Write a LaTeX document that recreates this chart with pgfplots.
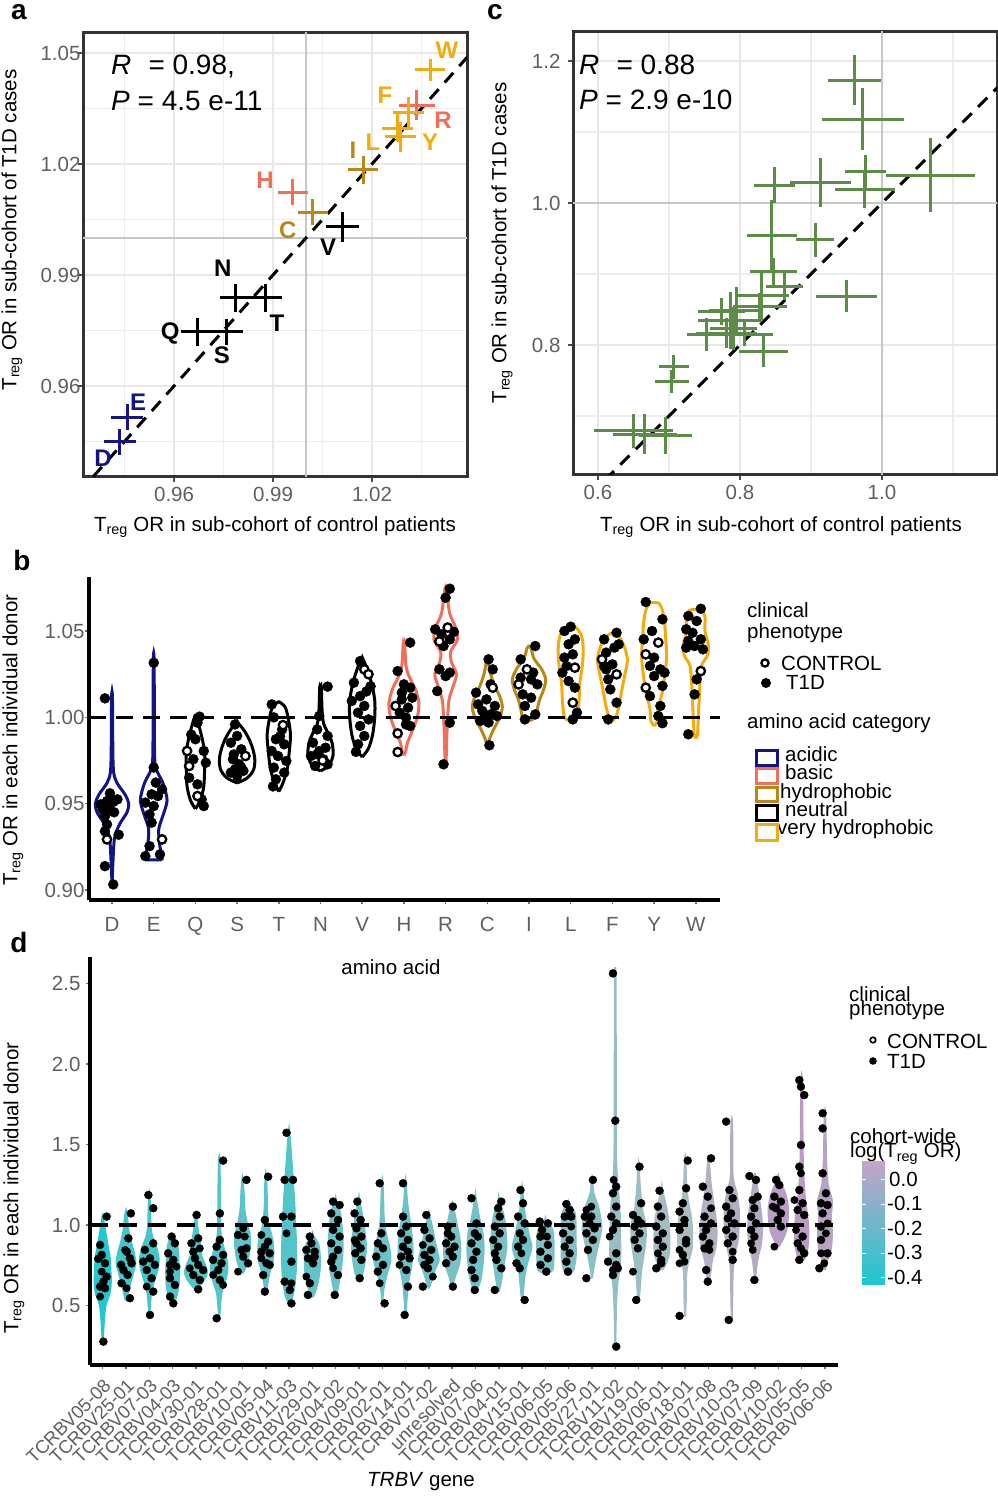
\documentclass[border=0pt]{standalone}
\usepackage{fontspec}
\setmainfont{Liberation Sans}
\usepackage{pgfplots}
\pgfplotsset{compat=1.18}
\definecolor{acid}{RGB}{20,20,135}
\definecolor{basic}{RGB}{240,110,90}
\definecolor{hyd}{RGB}{185,135,20}
\definecolor{vhyd}{RGB}{242,172,15}
\definecolor{grn}{RGB}{92,140,72}
\definecolor{cA}{RGB}{35,200,205}
\definecolor{cB}{RGB}{170,190,193}
\definecolor{cC}{RGB}{190,150,195}
\definecolor{tk}{RGB}{95,95,95}
\newcommand\fs{\fontsize{20.5}{23}\selectfont}
\newcommand\violin[3]{%
  \gdef\vR{}\gdef\vL{}%
  \foreach \yy/\ww in {#3}{%
    \pgfmathsetmacro\xr{#1+\ww}%
    \pgfmathsetmacro\xl{#1-\ww}%
    \xdef\vR{\vR(\xr,\yy)}%
    \xdef\vL{(\xl,\yy)\vL}%
  }%
  \edef\temp{\noexpand\addplot[#2] coordinates {\vR\vL};}%
  \temp}
\pgfplotsset{
  vb/.style={draw=#1, line width=3pt, smooth, fill=none},
  vd/.style={draw=#1, fill=#1, line width=2pt, smooth},
  t1d/.style={only marks, mark=*, mark size=#1, black, mark options={draw=black, fill=black}},
  ctl/.style={only marks, mark=*, mark size=#1, mark options={fill=white, draw=black, line width=2.3pt}},
  cross/.style={only marks, mark=*, mark size=0pt, mark options={draw=none, fill=none}, error bars/.cd, x dir=both, x explicit, y dir=both, y explicit, error mark=none, error bar style={line width=3pt, draw=#1}},
}
\begin{document}
\begin{tikzpicture}
\useasboundingbox (0,0) rectangle (998pt,1496pt);
\pgfplotsset{every axis/.append style={font=\fs, scale only axis, anchor=south west,
  tick label style={font=\fs, text=tk}}}
%%%%%%%%%%%%%%%% panel a
\begin{axis}[at={(83pt,1019pt)}, width=384pt, height=444pt,
  xmin=0.9324, xmax=1.0488, ymin=0.9354, ymax=1.0554,
  xtick={0.96,0.99,1.02}, ytick={0.96,0.99,1.02,1.05},
  xticklabels={0.96,0.99,1.02}, yticklabels={0.96,0.99,1.02,1.05},
  minor xtick={0.945,0.975,1.005,1.035}, minor ytick={0.945,0.975,1.005,1.035},
  grid=both, major grid style={line width=2.4pt, black!9}, minor grid style={line width=1.2pt, black!7},
  axis line style={line width=3pt, black!80}, tick pos=left,
  tick align=outside, major tick length=5pt, minor tick length=0pt,
  tick style={line width=1.5pt, black!70},
  xticklabel style={yshift=-2pt}, yticklabel style={xshift=6pt}]
\addplot[black!22, line width=2.8pt] coordinates {(1,0.9) (1,1.1)};
\addplot[black!22, line width=2.8pt] coordinates {(0.9,1) (1.1,1)};
\addplot[black, line width=3pt, dash pattern=on 13pt off 9pt] coordinates {(0.9,0.9) (1.1,1.1)};
\addplot[cross=acid] coordinates {(0.9458,0.9516) +- (0.0048,0.0036) (0.9436,0.9449) +- (0.0048,0.0036)};
\addplot[cross=black] coordinates {(1.0112,1.003) +- (0.005,0.004) (0.9785,0.9838) +- (0.0045,0.0038) (0.9876,0.9838) +- (0.005,0.0038) (0.967,0.9746) +- (0.005,0.0038) (0.976,0.9746) +- (0.005,0.0036)};
\addplot[cross=hyd] coordinates {(1.0173,1.0184) +- (0.0045,0.0038) (1.0021,1.007) +- (0.0045,0.0036)};
\addplot[cross=basic] coordinates {(0.996,1.0124) +- (0.0045,0.0036) (1.0336,1.0359) +- (0.0055,0.004)};
\addplot[cross=vhyd] coordinates {(1.0376,1.0454) +- (0.0046,0.003) (1.031,1.034) +- (0.0047,0.004) (1.0276,1.0297) +- (0.0047,0.0037) (1.0285,1.0273) +- (0.0047,0.004)};
\begin{scope}[every node/.style={font=\fontsize{24}{26}\selectfont\bfseries, inner sep=0pt}]
\node[vhyd] at (axis cs:1.0427,1.0508) {W};
\node[vhyd] at (axis cs:1.0239,1.0386) {F};
\node[basic] at (axis cs:1.0415,1.0319) {R};
\node[vhyd] at (axis cs:1.0376,1.0259) {Y};
\node[vhyd] at (axis cs:1.0203,1.0259) {L};
\node[hyd] at (axis cs:1.0142,1.0238) {I};
\node[basic] at (axis cs:0.9876,1.0157) {H};
\node[hyd] at (axis cs:0.9945,1.0022) {C};
\node[black] at (axis cs:1.0067,0.9976) {V};
\node[black] at (axis cs:0.9748,0.9919) {N};
\node[black] at (axis cs:0.9912,0.977) {T};
\node[black] at (axis cs:0.9588,0.9743) {Q};
\node[black] at (axis cs:0.9745,0.9684) {S};
\node[acid] at (axis cs:0.9491,0.9557) {E};
\node[acid] at (axis cs:0.9385,0.9405) {D};
\end{scope}
\end{axis}
%%%%%%%%%%%%%%%% panel c
\begin{axis}[at={(573pt,1021pt)}, width=424pt, height=443pt,
  xmin=0.5648, xmax=1.162, ymin=0.617, ymax=1.2408,
  xtick={0.6,0.8,1.0}, ytick={0.8,1.0,1.2},
  xticklabels={0.6,0.8,1.0}, yticklabels={0.8,1.0,1.2},
  minor xtick={0.7,0.9,1.1}, minor ytick={0.7,0.9,1.1},
  grid=both, major grid style={line width=2.4pt, black!9}, minor grid style={line width=1.2pt, black!7},
  axis line style={line width=3pt, black!80}, tick pos=left,
  tick align=outside, major tick length=5pt, minor tick length=0pt,
  tick style={line width=1.5pt, black!70},
  xticklabel style={yshift=-2pt}, yticklabel style={xshift=-4pt}]
\addplot[black!22, line width=2.8pt] coordinates {(1,0.5) (1,1.3)};
\addplot[black!22, line width=2.8pt] coordinates {(0.5,1) (1.2,1)};
\addplot[black, line width=3pt, dash pattern=on 13pt off 9pt] coordinates {(0.5,0.5) (1.2,1.2)};
\addplot[cross=grn] coordinates {
(0.961,1.173) +- (0.0376,0.035) (0.973,1.118) +- (0.058,0.044) (1.068,1.039) +- (0.063,0.052)
(0.977,1.044) +- (0.029,0.024) (0.976,1.019) +- (0.042,0.026) (0.914,1.029) +- (0.043,0.035)
(0.849,1.025) +- (0.029,0.025) (0.845,0.954) +- (0.035,0.05) (0.906,0.948) +- (0.027,0.024)
(0.950,0.869) +- (0.043,0.0225) (0.847,0.903) +- (0.033,0.019) (0.863,0.882) +- (0.026,0.019)
(0.8305,0.870) +- (0.038,0.036) (0.828,0.854) +- (0.038,0.019) (0.795,0.849) +- (0.038,0.033)
(0.774,0.847) +- (0.033,0.019) (0.786,0.835) +- (0.045,0.04) (0.781,0.8165) +- (0.043,0.021)
(0.753,0.815) +- (0.028,0.023) (0.807,0.8155) +- (0.04,0.017) (0.833,0.7906) +- (0.034,0.022)
(0.7906,0.8235) +- (0.033,0.03) (0.707,0.7695) +- (0.0216,0.017) (0.704,0.7483) +- (0.0235,0.016)
(0.650,0.679) +- (0.056,0.0235) (0.666,0.6746) +- (0.045,0.028) (0.695,0.672) +- (0.0376,0.026)};
\end{axis}
%%%%%%%%%%%%%%%% panel b
\begin{axis}[at={(89pt,596pt)}, width=631pt, height=323pt,
  xmin=0.448, xmax=15.58, ymin=0.8942, ymax=1.0813,
  axis x line*=bottom, axis y line*=left,
  axis line style={line width=3.5pt, black, -},
  xtick={1,...,15}, xticklabels={D,E,Q,S,T,N,V,H,R,C,I,L,F,Y,W},
  ytick={0.9,0.95,1.0,1.05}, yticklabels={0.90,0.95,1.00,1.05},
  tick align=outside, major tick length=4pt, tick style={line width=1.5pt, black!55},
  xticklabel style={yshift=-10pt}, yticklabel style={xshift=3pt}]
\violin{1}{vb=acid}{0.903/0,0.915/0.02,0.93/0.06,0.938/0.18,0.945/0.36,0.95/0.4,0.955/0.32,0.962/0.12,0.968/0.04,0.98/0.02,1.0116/0.01}
\violin{2}{vb=acid}{0.9175/0,0.918/0.2,0.925/0.15,0.935/0.12,0.943/0.22,0.952/0.32,0.962/0.22,0.97/0.06,0.98/0.02,1.032/0.01}
\violin{3}{vb=black}{0.947/0,0.952/0.12,0.96/0.2,0.97/0.22,0.98/0.22,0.99/0.14,0.998/0.05,1.001/0.01}
\violin{4}{vb=black}{0.962/0,0.965/0.25,0.97/0.4,0.977/0.42,0.985/0.33,0.992/0.18,0.997/0.01}
\violin{5}{vb=black}{0.957/0,0.962/0.1,0.97/0.2,0.98/0.25,0.99/0.28,1.0/0.22,1.006/0.15,1.009/0.01}
\violin{6}{vb=black}{0.969/0,0.972/0.2,0.978/0.3,0.985/0.28,0.99/0.2,0.996/0.08,1.003/0.04,1.017/0.02,1.018/0.01}
\violin{7}{vb=black}{0.977/0,0.982/0.15,0.99/0.25,1.0/0.3,1.01/0.3,1.02/0.22,1.028/0.12,1.034/0.01}
\violin{8}{vb=basic}{0.978/0,0.98/0.04,0.985/0.08,0.992/0.2,1.0/0.32,1.008/0.36,1.016/0.28,1.024/0.12,1.03/0.05,1.042/0.02,1.0425/0.01}
\violin{9}{vb=basic}{0.9718/0,0.98/0.02,0.99/0.03,1.0/0.05,1.01/0.08,1.018/0.18,1.025/0.26,1.032/0.14,1.038/0.12,1.045/0.28,1.052/0.24,1.06/0.1,1.07/0.04,1.0751/0.01}
\violin{10}{vb=hyd}{0.9834/0,0.988/0.06,0.993/0.15,1.0/0.3,1.006/0.36,1.012/0.3,1.018/0.18,1.025/0.08,1.03/0.04,1.0336/0.01}
\violin{11}{vb=hyd}{0.998/0,1.0/0.15,1.005/0.2,1.01/0.25,1.016/0.35,1.022/0.4,1.028/0.3,1.034/0.12,1.04/0.05,1.0413/0.01}
\violin{12}{vb=vhyd}{0.998/0,1.0/0.15,1.01/0.2,1.02/0.22,1.03/0.28,1.04/0.3,1.048/0.25,1.052/0.12,1.053/0.01}
\violin{13}{vb=vhyd}{0.998/0,1.0/0.08,1.006/0.15,1.015/0.22,1.025/0.3,1.033/0.36,1.04/0.3,1.046/0.18,1.049/0.01}
\violin{14}{vb=vhyd}{0.995/0,0.998/0.08,1.005/0.1,1.015/0.2,1.025/0.26,1.035/0.3,1.045/0.28,1.055/0.25,1.062/0.2,1.066/0.12,1.0665/0.01}
\violin{15}{vb=vhyd}{0.988/0,0.99/0.04,1.0/0.06,1.01/0.08,1.02/0.1,1.03/0.14,1.036/0.28,1.042/0.3,1.05/0.22,1.058/0.22,1.062/0.15,1.0626/0.01}
\addplot[black, line width=3.5pt, dash pattern=on 17pt off 10pt] coordinates {(0.448,1) (15.58,1)};
\addplot[t1d=5pt] coordinates {
(0.83,1.011) (0.73,0.9496) (0.88,0.9515) (1.03,0.951) (1.13,0.9525) (0.93,0.9467) (0.78,0.9467) (0.83,0.9428) (0.88,0.938) (0.83,0.934) (1.16,0.932) (0.83,0.9138) (1.03,0.9032) (0.95,0.956) (1.05,0.945)
(2.0,1.0316) (2.0,0.9709) (2.05,0.9622) (2.2,0.9583) (1.95,0.9554) (2.1,0.9544) (1.8,0.9506) (2.0,0.9486) (1.9,0.9438) (1.95,0.939) (1.9,0.9254) (1.8,0.9196) (2.15,0.9206)
(3.1,1.0004) (3.05,0.9969) (2.9,0.990) (3.0,0.9873) (3.2,0.9805) (2.95,0.9757) (3.25,0.9737) (2.85,0.965) (3.05,0.9612) (3.15,0.9525) (3.2,0.9486)
(3.95,0.9959) (4.0,0.9892) (3.85,0.9853) (4.1,0.9815) (3.9,0.9757) (4.05,0.9728) (3.95,0.9699) (4.15,0.969) (3.85,0.968) (4.0,0.966) (4.1,0.971) (3.92,0.9785)
(4.83,1.0075) (4.88,1.0) (5.08,0.993) (4.93,0.9873) (5.13,0.9844) (4.83,0.9805) (4.98,0.9776) (5.18,0.9747) (4.88,0.9709) (5.13,0.968) (4.93,0.9641) (4.86,0.96) (5.03,0.989)
(6.17,1.0178) (5.97,1.0008) (5.92,0.993) (6.17,0.9892) (5.82,0.9853) (6.12,0.9824) (5.92,0.9786) (5.77,0.9776) (6.07,0.9757) (5.87,0.9718) (6.17,0.9728) (5.97,0.9805)
(6.95,1.0326) (6.8,1.0201) (7.2,1.018) (6.95,1.0123) (6.75,1.0095) (7.05,1.0066) (6.9,1.0027) (7.15,0.9988) (6.95,0.995) (7.05,0.9892) (6.9,0.9844) (6.85,0.98) (7.1,1.015)
(8.15,1.0433) (7.85,1.0268) (8.0,1.0191) (8.15,1.0172) (7.95,1.0143) (8.2,1.0114) (8.1,1.0056) (7.9,1.0027) (8.05,0.9998) (8.15,0.995) (8.05,0.9959) (7.95,1.0104)
(9.1,1.0745) (9.0,1.0693) (8.75,1.051) (8.9,1.0481) (9.1,1.0452) (8.95,1.0413) (8.85,1.0278) (9.1,1.0259) (9.0,1.0239) (8.8,1.0152) (9.1,0.9969) (8.95,0.9728) (9.2,1.0495)
(10.03,1.0336) (10.13,1.0278) (9.73,1.0143) (10.08,1.0191) (9.98,1.0104) (9.78,1.0075) (10.18,1.0066) (9.88,1.0037) (10.08,1.0017) (9.93,0.9998) (10.23,1.0008) (9.83,0.9979) (10.03,0.997) (10.05,0.9838)
(11.15,1.0413) (10.8,1.0336) (11.1,1.0259) (10.8,1.023) (11.05,1.022) (11.2,1.0191) (10.85,1.0133) (11.05,1.0114) (10.9,1.0066) (11.15,1.0017) (10.9,0.9988)
(12.0,1.0525) (11.85,1.05) (12.1,1.0452) (11.95,1.0423) (11.85,1.0346) (12.05,1.0365) (11.8,1.0259) (11.95,1.021) (12.1,1.0172) (12.15,1.0027) (12.05,0.9988) (11.9,1.0297)
(13.1,1.049) (12.8,1.0452) (13.05,1.0404) (12.85,1.0375) (13.0,1.0307) (12.85,1.0278) (12.9,1.022) (12.95,1.0162) (13.1,1.0085) (12.9,0.9988) (13.15,1.0423) (12.8,1.0297)
(13.8,1.0668) (14.2,1.0568) (13.95,1.05) (13.75,1.0452) (14.0,1.0346) (13.9,1.0298) (14.15,1.0278) (14.0,1.0239) (14.25,1.0259) (14.2,1.0182) (13.9,1.0123) (14.15,1.0066) (14.1,1.0008) (14.2,0.9966)
(15.12,1.0629) (14.82,1.0587) (15.02,1.0558) (14.77,1.051) (14.92,1.049) (14.82,1.0442) (15.12,1.0452) (14.97,1.0413) (14.77,1.0404) (15.17,1.0394) (15.02,1.022) (14.97,1.0133) (14.82,0.9902)};
\addplot[ctl=4.2pt] coordinates {
(0.88,0.9293) (2.2,0.9293) (2.8,0.9805) (2.85,0.9718) (3.05,0.9544) (4.2,0.9776) (5.1,0.9955) (6.05,0.975)
(7.05,1.0278) (7.15,1.025) (7.8,1.0066) (7.85,0.9907) (7.85,0.9799) (9.05,1.052) (8.85,1.044) (10.13,1.0172)
(10.95,1.0278) (10.75,1.0191) (12.1,1.0288) (12.05,1.0085) (12.75,1.0336) (13.1,1.0249) (14.1,1.0433) (13.8,1.0365) (13.8,1.0172) (15.12,1.0268)};
\end{axis}
%%%%%%%%%%%%%%%% panel d
\begin{axis}[at={(90pt,131pt)}, width=748pt, height=408pt,
  xmin=0.455, xmax=32.56, ymin=0.130, ymax=2.665,
  axis x line*=bottom, axis y line*=left,
  axis line style={line width=3.5pt, black, -},
  xtick={1,...,32},
  xticklabels={TCRBV05-08,TCRBV25-01,TCRBV07-03,TCRBV04-03,TCRBV30-01,TCRBV28-01,TCRBV10-01,TCRBV05-04,TCRBV11-03,TCRBV29-01,TCRBV04-02,TCRBV09-01,TCRBV02-01,TCRBV14-01,TCRBV07-02,unresolved,TCRBV07-06,TCRBV04-01,TCRBV15-01,TCRBV06-05,TCRBV05-06,TCRBV27-01,TCRBV11-02,TCRBV19-01,TCRBV06-01,TCRBV18-01,TCRBV07-08,TCRBV10-03,TCRBV07-09,TCRBV10-02,TCRBV05-05,TCRBV06-06},
  xticklabel style={yshift=-7pt, rotate=45, anchor=north east, font=\fontsize{18.5}{20}\selectfont, inner sep=1pt},
  ytick={0.5,1,1.5,2,2.5}, yticklabels={0.5,1.0,1.5,2.0,2.5},
  tick align=outside, major tick length=4pt, tick style={line width=1.5pt, black!55},
  yticklabel style={xshift=-2pt}]
\violin{1}{vd=cA}{0.27/0,0.4/0.05,0.5/0.12,0.58/0.3,0.65/0.35,0.72/0.33,0.8/0.3,0.88/0.2,0.95/0.12,1.0/0.06,1.05/0.01}
\violin{2}{vd=cB!22!cA}{0.53/0,0.56/0.06,0.62/0.15,0.7/0.3,0.76/0.4,0.82/0.35,0.9/0.2,0.97/0.1,1.03/0.06,1.083/0.01}
\violin{3}{vd=cB!22!cA}{0.44/0,0.5/0.03,0.58/0.08,0.65/0.2,0.72/0.35,0.79/0.4,0.86/0.3,0.93/0.12,1.0/0.05,1.1/0.03,1.186/0.01}
\violin{4}{vd=cB!35!cA}{0.51/0,0.55/0.15,0.62/0.25,0.7/0.28,0.78/0.25,0.85/0.22,0.9/0.15,0.938/0.01}
\violin{5}{vd=cB!35!cA}{0.596/0,0.62/0.15,0.66/0.35,0.7/0.47,0.75/0.4,0.8/0.25,0.88/0.18,0.95/0.1,1.0/0.05,1.062/0.01}
\violin{6}{vd=cB!35!cA}{0.42/0,0.5/0.04,0.58/0.1,0.65/0.25,0.72/0.35,0.8/0.3,0.88/0.15,0.95/0.06,1.1/0.04,1.25/0.03,1.404/0.01}
\violin{7}{vd=cB!42!cA}{0.7/0,0.73/0.12,0.8/0.25,0.88/0.32,0.95/0.3,1.0/0.2,1.1/0.08,1.2/0.05,1.28/0.01}
\violin{8}{vd=cB!42!cA}{0.575/0,0.62/0.05,0.7/0.15,0.78/0.3,0.86/0.32,0.93/0.25,1.0/0.12,1.1/0.05,1.2/0.04,1.3/0.01}
\violin{9}{vd=cB!35!cA}{0.513/0,0.56/0.15,0.65/0.25,0.75/0.3,0.85/0.3,0.95/0.28,1.05/0.25,1.15/0.22,1.3/0.15,1.45/0.08,1.58/0.01}
\violin{10}{vd=cB!48!cA}{0.55/0,0.6/0.15,0.7/0.3,0.8/0.32,0.88/0.25,0.938/0.01}
\violin{11}{vd=cB!52!cA}{0.555/0,0.6/0.08,0.7/0.2,0.8/0.28,0.9/0.3,1.0/0.25,1.08/0.18,1.155/0.01}
\violin{12}{vd=cB!52!cA}{0.658/0,0.7/0.15,0.78/0.25,0.86/0.3,0.95/0.25,1.05/0.15,1.155/0.01}
\violin{13}{vd=cB!52!cA}{0.513/0,0.6/0.05,0.7/0.2,0.78/0.35,0.86/0.3,0.95/0.15,1.05/0.06,1.15/0.04,1.259/0.01}
\violin{14}{vd=cB!52!cA}{0.441/0,0.55/0.05,0.65/0.12,0.75/0.25,0.85/0.3,0.95/0.25,1.05/0.15,1.15/0.06,1.259/0.01}
\violin{15}{vd=cB!57!cA}{0.607/0,0.65/0.1,0.72/0.25,0.78/0.42,0.84/0.35,0.9/0.25,0.98/0.15,1.062/0.01}
\violin{16}{vd=cB!62!cA}{0.617/0,0.68/0.12,0.76/0.3,0.85/0.35,0.93/0.3,1.0/0.2,1.06/0.12,1.124/0.01}
\violin{17}{vd=cB!58!cA}{0.586/0,0.65/0.2,0.75/0.3,0.85/0.35,0.95/0.3,1.05/0.15,1.166/0.01}
\violin{18}{vd=cB!62!cA}{0.586/0,0.65/0.1,0.75/0.2,0.85/0.32,0.95/0.3,1.05/0.22,1.155/0.01}
\violin{19}{vd=cB!58!cA}{0.534/0,0.6/0.05,0.7/0.12,0.78/0.25,0.86/0.4,0.93/0.3,1.0/0.2,1.1/0.08,1.217/0.01}
\violin{20}{vd=cB!68!cA}{0.7/0,0.72/0.3,0.8/0.35,0.9/0.35,0.97/0.3,1.031/0.01}
\violin{21}{vd=cB!72!cA}{0.689/0,0.72/0.2,0.8/0.3,0.9/0.3,1.0/0.3,1.08/0.25,1.135/0.01}
\violin{22}{vd=cB!78!cA}{0.669/0,0.72/0.05,0.8/0.15,0.9/0.3,0.98/0.4,1.05/0.35,1.12/0.25,1.2/0.06,1.28/0.01}
\violin{23}{vd=cB!85!cA}{0.244/0,0.4/0.02,0.55/0.05,0.65/0.1,0.75/0.2,0.85/0.22,0.95/0.2,1.05/0.2,1.15/0.15,1.25/0.1,1.4/0.04,1.7/0.03,2.2/0.02,2.563/0.01}
\violin{24}{vd=cB!90!cA}{0.534/0,0.6/0.05,0.7/0.1,0.8/0.2,0.9/0.3,1.0/0.3,1.1/0.15,1.25/0.05,1.362/0.01}
\violin{25}{vd=cB!95!cA}{0.72/0,0.75/0.15,0.82/0.3,0.9/0.32,1.0/0.3,1.1/0.2,1.217/0.01}
\violin{26}{vd=cB}{0.431/0,0.55/0.03,0.7/0.05,0.78/0.15,0.85/0.28,0.95/0.3,1.05/0.25,1.15/0.12,1.25/0.05,1.404/0.01}
\violin{27}{vd=cC!30!cB}{0.648/0,0.7/0.08,0.78/0.15,0.86/0.3,0.95/0.35,1.05/0.3,1.15/0.2,1.25/0.1,1.414/0.01}
\violin{28}{vd=cC!40!cB}{0.41/0,0.55/0.02,0.7/0.04,0.8/0.1,0.9/0.25,1.0/0.3,1.1/0.3,1.2/0.2,1.3/0.04,1.5/0.03,1.642/0.01}
\violin{29}{vd=cC!50!cB}{0.658/0,0.72/0.04,0.8/0.12,0.88/0.25,0.98/0.3,1.08/0.25,1.18/0.15,1.31/0.01}
\violin{30}{vd=cC!80!cB}{0.865/0,0.9/0.15,0.95/0.3,1.0/0.38,1.1/0.42,1.18/0.32,1.25/0.15,1.3/0.01}
\violin{31}{vd=cC!90!cB}{0.772/0,0.8/0.15,0.86/0.25,0.93/0.28,1.0/0.28,1.1/0.2,1.2/0.12,1.35/0.06,1.5/0.04,1.7/0.03,1.9/0.01}
\violin{32}{vd=cC!70!cB}{0.72/0,0.78/0.1,0.85/0.25,0.95/0.3,1.05/0.25,1.15/0.3,1.25/0.12,1.4/0.05,1.55/0.03,1.694/0.01}
\addplot[black, line width=3.5pt, dash pattern=on 18pt off 11pt] coordinates {(0.455,1) (32.56,1)};
\addplot[t1d=4pt] coordinates {
(1.17,1.052) (0.89,0.876) (0.96,0.814) (1.1,0.762) (1.17,0.679) (0.89,0.617) (1.1,0.607) (1.03,0.275) (0.81,0.79) (1.03,0.648)
(2.21,1.072) (2.1,0.917) (2.03,0.834) (1.79,0.752) (2.17,0.793) (1.89,0.72) (2.07,0.69) (1.81,0.638) (2.17,0.545) (2.24,0.762)
(2.96,1.186) (3.17,1.104) (3.17,0.886) (2.81,0.845) (3.03,0.793) (2.74,0.772) (3.24,0.752) (2.89,0.72) (3.1,0.669) (3.17,0.586) (3.03,0.441)
(3.96,0.928) (3.81,0.824) (4.03,0.783) (3.89,0.669) (4.1,0.627) (3.89,0.555) (4.03,0.513) (4.1,0.886) (3.89,0.752)
(5.03,1.062) (5.1,0.917) (4.81,0.886) (4.89,0.834) (4.96,0.793) (5.1,0.752) (5.31,0.72) (4.89,0.689) (5.17,0.658) (5.1,0.6)
(6.17,1.4) (6.03,1.072) (6.03,0.907) (5.89,0.865) (5.74,0.783) (6.1,0.762) (5.96,0.72) (6.03,0.658) (5.89,0.42) (6.17,0.814)
(7.17,1.28) (6.81,0.938) (7.17,0.855) (7.03,0.803) (7.24,0.762) (6.96,0.845)
(8.1,1.3) (7.96,1.031) (8.1,0.896) (7.96,0.865) (8.17,0.824) (8.03,0.762) (7.89,0.689) (7.96,0.586) (8.17,0.752) (7.81,0.834)
(8.89,1.573) (8.81,1.28) (9.17,1.28) (8.74,1.052) (9.1,1.052) (9.1,0.772) (8.81,0.648) (9.03,0.596) (9.1,0.513)
(9.89,0.928) (9.96,0.886) (9.74,0.845) (10.1,0.834) (9.81,0.793) (10.03,0.762) (9.89,0.638) (9.81,0.565) (10.1,0.803)
(10.89,1.145) (11.17,1.124) (10.81,1.072) (11.1,1.031) (10.89,0.969) (11.17,0.928) (10.81,0.886) (11.1,0.845) (10.89,0.803) (11.1,0.689) (10.96,0.565) (10.81,0.772)
(11.93,1.145) (11.81,1.072) (12.07,1.031) (11.89,0.979) (12.1,0.928) (11.89,0.886) (12.07,0.855) (11.84,0.824) (12.1,0.783) (12.03,0.669)
(12.89,1.259) (12.81,0.886) (13.03,0.855) (12.74,0.803) (13.03,0.752) (12.81,0.71) (13.1,0.513) (12.96,0.948)
(13.89,1.259) (13.89,1.052) (14.03,0.99) (13.81,0.948) (14.1,0.907) (13.89,0.865) (14.1,0.834) (14.03,0.72) (14.1,0.617) (13.96,0.441) (14.17,0.793) (13.81,0.803)
(14.89,1.062) (14.81,0.969) (15.03,0.917) (15.1,0.845) (14.81,0.814) (15.03,0.783) (14.81,0.752) (14.74,0.617) (14.96,0.731)
(16.03,1.114) (15.81,0.99) (15.96,0.928) (15.74,0.886) (16.1,0.865) (15.89,0.834) (16.03,0.803) (15.74,0.762) (16.03,0.617) (15.81,0.948)
(16.83,1.166) (17.04,1.01) (16.97,0.948) (16.83,0.886) (17.04,0.834) (16.9,0.783) (16.83,0.72) (16.97,0.669) (16.97,0.596) (17.1,0.928)
(18.11,1.145) (17.97,1.104) (17.83,0.99) (18.04,0.948) (17.76,0.907) (17.97,0.865) (17.83,0.824) (18.11,0.731) (17.83,0.596) (18.04,1.052) (17.9,0.783)
(18.93,1.217) (19.04,1.135) (18.83,1.052) (19.11,1.01) (18.9,0.948) (19.04,0.907) (18.83,0.865) (18.9,0.731) (19.11,0.534) (18.76,0.762)
(19.76,1.021) (20.11,1.01) (19.79,0.928) (20.11,0.876) (19.79,0.834) (20.11,0.793) (19.79,0.752) (20.04,0.71) (19.86,0.969)
(20.9,1.13) (21.04,1.093) (20.83,1.052) (20.76,0.948) (21.04,0.907) (20.83,0.865) (21.04,0.824) (20.9,0.772) (20.97,0.71) (21.11,1.052)
(22.04,1.28) (21.69,1.052) (21.9,1.01) (22.11,0.979) (21.76,0.948) (22.04,0.907) (21.83,0.845) (21.76,0.669) (21.97,1.052)
(22.9,2.563) (23.0,1.648) (23.04,1.238) (22.9,1.197) (23.04,1.114) (22.83,1.052) (23.04,1.01) (22.9,0.969) (23.04,0.824) (22.69,0.772) (23.04,0.752) (23.11,0.731) (22.9,0.689) (23.04,0.244)
(24.04,1.362) (24.11,1.135) (23.76,1.062) (23.97,1.031) (23.83,0.99) (24.04,0.948) (23.83,0.907) (23.97,0.855) (23.9,0.534) (24.11,1.01)
(24.9,1.213) (24.83,1.114) (24.97,1.052) (24.76,0.99) (25.04,0.948) (24.83,0.907) (25.04,0.865) (24.97,0.783) (24.76,0.731) (24.97,0.762)
(26.11,1.4) (26.04,1.228) (25.9,1.135) (25.76,1.083) (25.97,1.031) (25.76,0.969) (26.04,0.907) (25.9,0.814) (25.76,0.435) (26.04,0.886)
(27.11,1.414) (26.76,1.238) (26.97,1.176) (26.83,1.052) (27.11,1.01) (26.9,0.969) (26.76,0.928) (27.04,0.886) (26.83,0.855) (26.9,0.72) (26.97,0.648)
(27.76,1.642) (27.9,1.217) (28.04,1.166) (27.76,1.114) (27.97,1.072) (27.83,1.041) (28.11,1.01) (27.76,0.969) (28.04,0.928) (27.83,0.886) (28.04,0.783) (27.87,0.41)
(28.76,1.304) (29.04,1.28) (28.9,1.155) (28.97,1.104) (28.83,1.052) (29.04,1.01) (28.83,0.969) (28.97,0.928) (28.97,0.658) (29.11,1.176)
(29.9,1.28) (30.04,1.248) (29.83,1.176) (30.11,1.145) (29.9,1.104) (30.11,1.072) (29.97,1.031) (30.11,0.99)
(30.9,1.9) (30.97,1.859) (31.11,1.807) (30.97,1.497) (30.9,1.362) (30.9,1.217) (31.04,1.135) (30.83,1.093) (31.11,1.062) (31.04,0.928) (30.83,0.886) (31.11,0.824) (30.9,0.783)
(31.9,1.694) (31.9,1.6) (31.9,1.321) (32.04,1.197) (31.83,1.135) (32.11,1.124) (31.9,1.072) (31.83,0.99) (32.11,0.824) (31.76,0.731) (31.83,0.907)};
\addplot[ctl=3pt, mark options={line width=1.8pt}] coordinates {
(0.96,0.71) (0.89,0.555) (2.03,0.607) (1.96,0.845) (2.89,0.617) (4.17,0.741) (3.89,0.71) (5.17,0.855) (4.74,0.731)
(5.74,0.689) (6.17,0.627) (7.03,0.979) (7.1,0.928) (6.81,0.71) (7.81,0.938) (7.81,0.793) (8.89,0.948) (9.1,0.638)
(9.74,0.679) (10.89,0.731) (11.81,0.907) (12.89,0.638) (13.74,0.752) (14.74,0.876) (15.17,0.679) (18.97,0.824)
(20.07,0.928) (21.11,0.99) (21.97,1.114) (21.76,1.093) (22.93,1.28) (22.76,0.928) (22.9,0.72) (23.76,0.71) (24.83,0.824)
(25.76,0.845) (25.76,0.762) (25.97,0.772) (27.11,1.104) (27.04,0.845) (28.04,0.834) (28.83,0.886) (28.9,0.845)
(29.83,0.865) (29.76,1.114) (30.97,1.321) (30.76,0.969) (30.97,0.855) (30.69,1.155) (32.11,1.01) (32.04,0.948) (31.83,0.824) (31.97,0.762)};
\end{axis}
%%%%%%%%%%%%%%%% texts and legends
\begin{scope}[x=1pt,y=-1pt,shift={(0pt,1496pt)}]
\begin{scope}[every node/.style={font=\fontsize{28}{30}\selectfont\bfseries, inner sep=0pt}]
\node at (19,12) {a};
\node at (495,12) {c};
\node at (22,561) {b};
\node at (19,942) {d};
\end{scope}
\begin{scope}[every node/.style={font=\fontsize{28}{30}\selectfont, inner sep=0pt, anchor=west}]
\node at (111,67) {\textit{R}\,\, = 0.98,};
\node at (111,101) {\textit{P} = 4.5 e-11};
\node at (579,65) {\textit{R}\,\, = 0.88};
\node at (579,100) {\textit{P} = 2.9 e-10};
\end{scope}
\begin{scope}[every node/.style={font=\fs, inner sep=0pt}]
\node at (275,527) {T\textsubscript{reg} OR in sub-cohort of control patients};
\node at (781,527) {T\textsubscript{reg} OR in sub-cohort of control patients};
\node[rotate=90] at (12,230) {T\textsubscript{reg} OR in sub-cohort of T1D cases};
\node[rotate=90] at (502,243) {T\textsubscript{reg} OR in sub-cohort of T1D cases};
\node[rotate=90] at (13,740) {T\textsubscript{reg} OR in each individual donor};
\node[rotate=90] at (14,1188) {T\textsubscript{reg} OR in each individual donor};
\node at (421,1482) {\textit{TRBV} gene};
\node at (391,967) {amino acid};
% legend b
\node[anchor=base west] at (747,618) {clinical};
\node[anchor=base west] at (747,639) {phenotype};
\node[anchor=base west] at (781,671) {CONTROL};
\node[anchor=base west] at (786,690) {T1D};
\node[anchor=base west] at (747,729) {amino acid category};
\node[anchor=base west] at (785,762) {acidic};
\node[anchor=base west] at (785,780) {basic};
\node[anchor=base west] at (780,799) {hydrophobic};
\node[anchor=base west] at (785,817) {neutral};
\node[anchor=base west] at (777,835) {very hydrophobic};
% legend d
\node[anchor=base west] at (849,1002) {clinical};
\node[anchor=base west] at (849,1016) {phenotype};
\node[anchor=base west] at (887,1049) {CONTROL};
\node[anchor=base west] at (887,1069) {T1D};
\node[anchor=base west] at (850,1144) {cohort-wide};
\node[anchor=base west] at (850,1158) {log(T\textsubscript{reg} OR)};
\node[anchor=base west] at (889,1187) {0.0};
\node[anchor=base west] at (887,1211) {-0.1};
\node[anchor=base west] at (887,1236) {-0.2};
\node[anchor=base west] at (887,1260) {-0.3};
\node[anchor=base west] at (887,1285) {-0.4};
\end{scope}
\draw[line width=2.3pt, fill=white] (765,663) circle (3.6pt);
\fill (766,683) circle (5pt);
\draw[acid, line width=3pt] (756.5,750.5) rectangle (777.5,766);
\draw[basic, line width=3pt] (756.5,769) rectangle (777.5,784);
\draw[hyd, line width=3pt] (756.5,788) rectangle (777.5,802);
\draw[black, line width=3pt] (756.5,806) rectangle (777.5,821);
\draw[vhyd, line width=3pt] (756.5,824.5) rectangle (777.5,840.5);
\draw[line width=1.6pt, fill=white] (873,1040) circle (2.8pt);
\fill (873,1061) circle (3.8pt);
\shade[top color={rgb,255:red,195;green,165;blue,200}, middle color={rgb,255:red,145;green,188;blue,193}, bottom color={rgb,255:red,28;green,200;blue,206}] (862,1162) rectangle (885,1285);
\foreach \yy in {1180,1204.5,1229,1253.5,1278}{
  \draw[white, line width=1pt] (862,\yy) -- (866,\yy);
  \draw[white, line width=1pt] (881,\yy) -- (885,\yy);
}
\end{scope}
\end{tikzpicture}
\end{document}
